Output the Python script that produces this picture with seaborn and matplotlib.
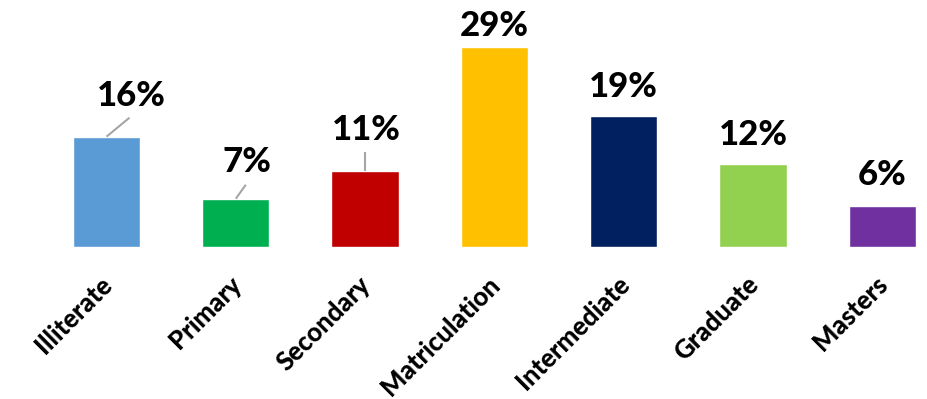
import matplotlib
matplotlib.use("Agg")
import matplotlib.pyplot as plt
import matplotlib.transforms as mtransforms
import seaborn as sns
import pandas as pd

categories = ["Illiterate", "Primary", "Secondary", "Matriculation",
              "Intermediate", "Graduate", "Masters"]
values = [16, 7, 11, 29, 19, 12, 6]
labels = ["16%", "7%", "11%", "29%", "19%", "12%", "6%"]
colors = ["#5B9BD5", "#00B050", "#C00000", "#FFC000", "#002060", "#92D050", "#7030A0"]

sns.set_theme(style="white")
plt.rcParams["font.family"] = ["Lato", "DejaVu Sans"]

df = pd.DataFrame({"cat": categories, "val": values})

W, H, DPI = 928, 399, 100
fig = plt.figure(figsize=(W / DPI, H / DPI), dpi=DPI)
base_px = 247
ax = fig.add_axes([0, (H - base_px) / H, 1, base_px / H])

sns.barplot(data=df, x="cat", y="val", hue="cat", palette=colors,
            legend=False, width=0.52, ax=ax, saturation=1)

ppx = 129.3          # px per category
ppy = 200 / 29.0     # px per percent
first_px = 106.5
ax.set_xlim(-first_px / ppx, (W - first_px) / ppx)
ax.set_ylim(0, base_px / ppy)

for s in ax.spines.values():
    s.set_visible(False)
ax.set_yticks([])
ax.set_xlabel("")
ax.set_ylabel("")
ax.tick_params(axis="x", length=0, pad=18)
ax.set_xticks(range(len(categories)))
ax.set_xticklabels(categories, rotation=45, ha="right", va="top",
                   rotation_mode="anchor", fontsize=18.5, fontweight="black",
                   color="black")
shift = mtransforms.ScaledTranslation(-7 / DPI, 0, fig.dpi_scale_trans)
for t in ax.get_xticklabels():
    t.set_transform(t.get_transform() + shift)

# label offsets in px: (dx, baseline gap above bar top, leader line end dx, dy)
offsets = {0: (25, 31, (23, 19)), 1: (11, 27, (10, 14)), 2: (1, 31, (0, 19)),
           3: (0, 11, None), 4: (0, 19, None), 5: (0, 19, None), 6: (0, 21, None)}
for i, (v, lab) in enumerate(zip(values, labels)):
    dx, gap, line = offsets[i]
    if line is not None:
        lx, ly = line
        ax.plot([i, i + lx / ppx], [v, v + ly / ppy], color="#A6A6A6", lw=1.5,
                solid_capstyle="butt", clip_on=False)
    ax.text(i + dx / ppx, v + gap / ppy, lab, ha="center", va="baseline",
            fontsize=25, fontweight="black", color="black", clip_on=False)

fig.savefig("out.png", dpi=DPI)
